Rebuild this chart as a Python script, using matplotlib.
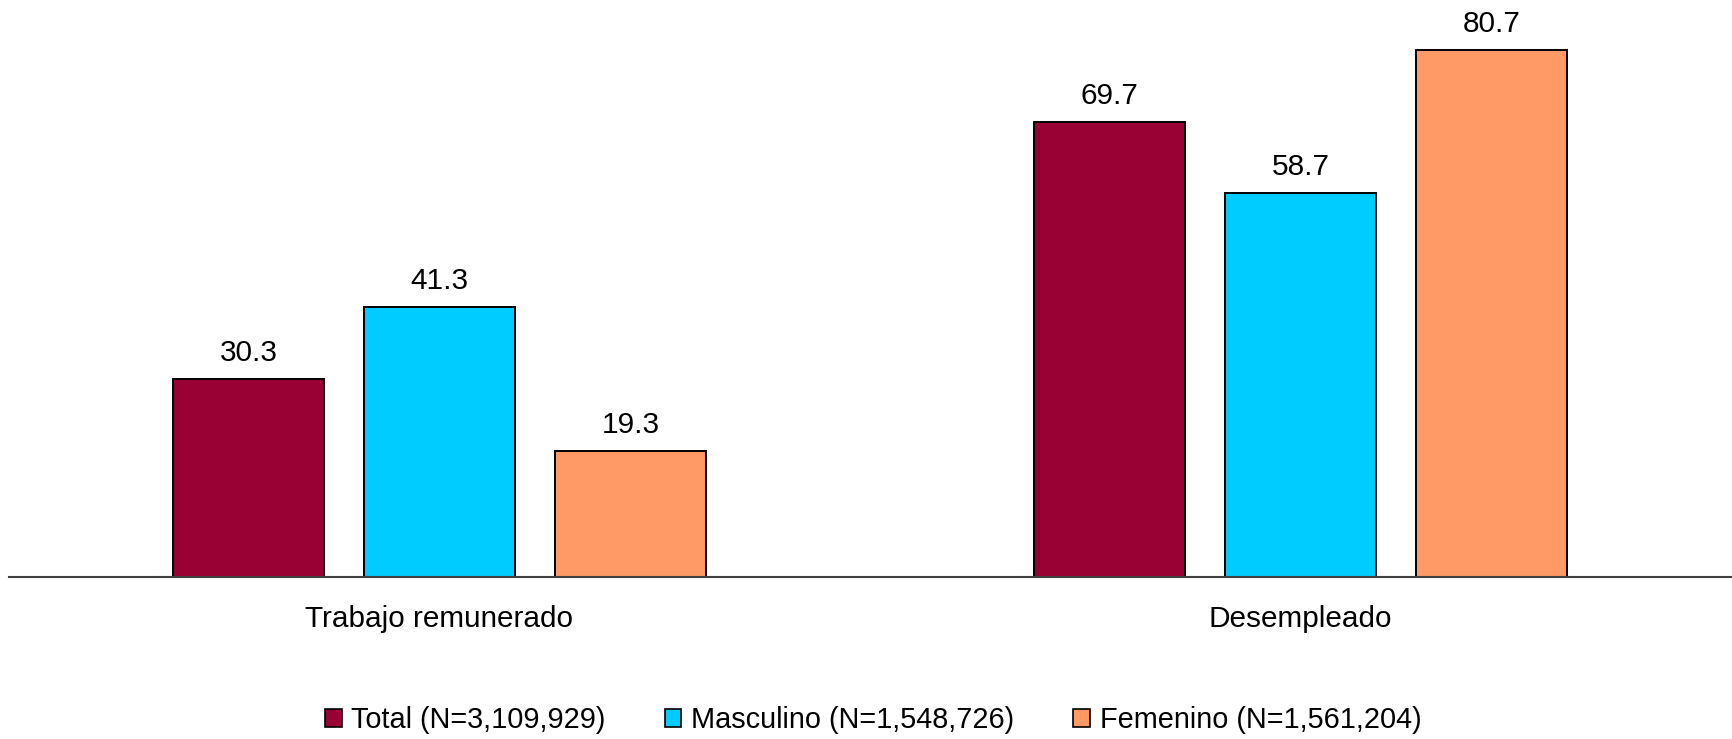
import matplotlib
matplotlib.use("Agg")
import matplotlib.pyplot as plt
from matplotlib.patches import Patch
import numpy as np

plt.rcParams['font.family'] = ['Liberation Sans', 'DejaVu Sans']

categories = ["Trabajo remunerado", "Desempleado"]
series_names = ["Total (N=3,109,929)", "Masculino (N=1,548,726)", "Femenino (N=1,561,204)"]
total = [30.3, 69.7]
masculino = [41.3, 58.7]
femenino = [19.3, 80.7]
colors = ["#990033", "#00CCFF", "#FF9966"]

fig = plt.figure(figsize=(17.33, 7.39), dpi=100)
ax = fig.add_axes([9 / 1733, 162 / 739, 1722 / 1733, 577 / 739])

x = np.arange(len(categories))
width = 0.1748
step = 0.2218
series = [total, masculino, femenino]
fs = 21.4
legend_fs = 20.8

for i, (vals, col) in enumerate(zip(series, colors)):
    pos = x + (i - 1) * step
    bars = ax.bar(pos, vals, width=width, color=col, edgecolor="black", linewidth=1.4, zorder=2)
    for b, v in zip(bars, vals):
        ax.annotate(f"{v:.1f}", (b.get_x() + b.get_width() / 2, v),
                    xytext=(0, 12), textcoords="offset pixels",
                    ha="center", va="bottom", fontsize=fs)

ax.set_xlim(-0.5, 1.5)
ax.set_ylim(0, 88.3)
for s in ["top", "right", "left"]:
    ax.spines[s].set_visible(False)
ax.spines["bottom"].set_color("#404040")
ax.spines["bottom"].set_linewidth(1.5)
ax.spines["bottom"].set_zorder(3)
ax.set_yticks([])
ax.set_xticks(x)
ax.set_xticklabels(categories, fontsize=fs)
ax.tick_params(axis="x", length=0, pad=20)

handles = [Patch(facecolor=c, edgecolor="black", linewidth=1.2) for c in colors]
fig.legend(handles, series_names, loc="center", bbox_to_anchor=(873 / 1733, 1 - 720.5 / 739),
           ncol=3, frameon=False, fontsize=legend_fs, handlelength=0.58, handleheight=0.58,
           handletextpad=0.33, columnspacing=2.05, borderaxespad=0)

fig.savefig("out.png", dpi=100)
